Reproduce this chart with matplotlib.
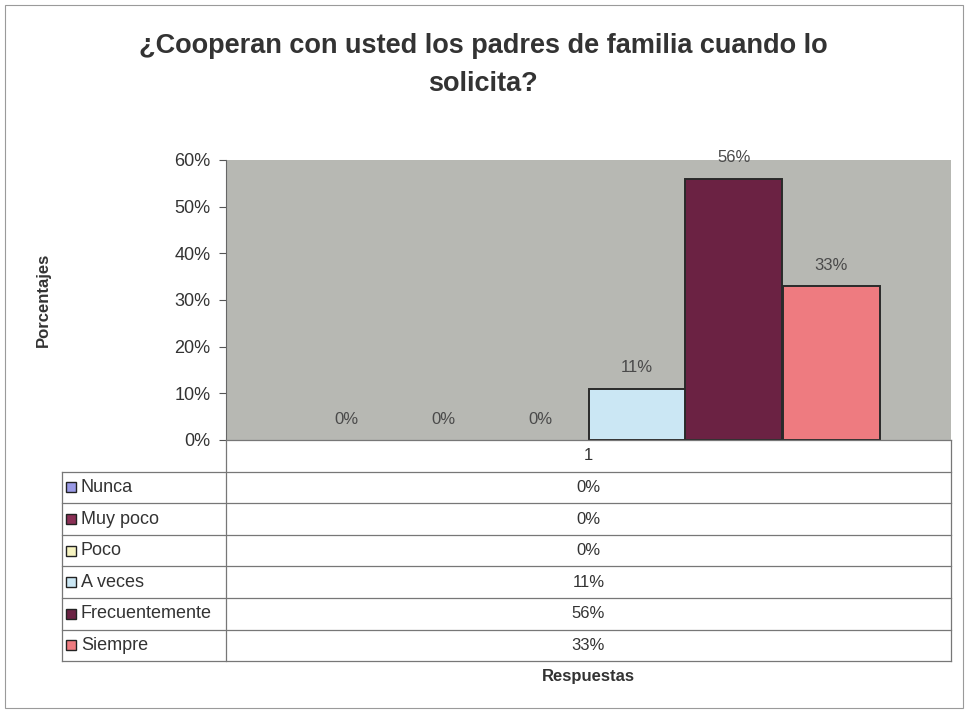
import matplotlib
matplotlib.use("Agg")
import matplotlib.pyplot as plt
from matplotlib.lines import Line2D
from matplotlib.patches import Rectangle

# === DATA ===
categories = ["Nunca", "Muy poco", "Poco", "A veces", "Frecuentemente", "Siempre"]
values = [0, 0, 0, 11, 56, 33]
series_label = "1"
yticks = [0, 10, 20, 30, 40, 50, 60]
colors = ["#9a9ae6", "#8a2f55", "#f6f3c0", "#cbe7f4", "#6b2243", "#ee7b80"]

TITLE = "¿Cooperan con usted los padres de familia cuando lo\nsolicita?"
W, H = 966, 713
FONT = "Liberation Sans"


def fx(x):
    return x / W


def fy(y):
    return 1 - y / H


fig = plt.figure(figsize=(W / 100, H / 100), dpi=100)
fig.patch.set_facecolor("white")

# outer chart border
fig.add_artist(Rectangle((fx(5), fy(708)), fx(958), (703) / H, transform=fig.transFigure,
                         fill=False, edgecolor="#9a9a9a", linewidth=0.8))

left, right, top, bottom = 226, 951, 160, 440
ax = fig.add_axes([fx(left), fy(bottom), fx(right - left), (bottom - top) / H])
ax.set_facecolor("#b7b8b3")

n = len(categories)
bw = 97 / (right - left)
x0 = 0.5 - n * bw / 2
for i, (cat, v, c) in enumerate(zip(categories, values, colors)):
    xc = x0 + (i + 0.5) * bw
    if v > 0:
        ax.bar(xc, v, width=bw, color=c, edgecolor="#2a2a2a", linewidth=1.4, zorder=3)
    ax.annotate(f"{v}%", (xc, v), xytext=(0, 15), textcoords="offset points",
                ha="center", va="center", fontsize=12, color="#4a4a4a", family=FONT)

ax.set_xlim(0, 1)
ax.set_ylim(0, 60)
ax.set_yticks(yticks)
ax.set_yticklabels([f"{t}%" for t in yticks], fontsize=13, color="#333333", family=FONT)
ax.set_xticks([])
ax.tick_params(axis="y", length=5, color="#555555", pad=6)
for s in ["top", "right", "bottom"]:
    ax.spines[s].set_visible(False)
ax.spines["left"].set_color("#666666")

fig.text(0.5, fy(65), TITLE, ha="center", va="center", fontsize=19.5, fontweight="bold",
         color="#333333", family=FONT, linespacing=1.64)
fig.text(fx(43), fy(300), "Porcentajes", rotation=90, ha="center", va="center",
         fontsize=12, fontweight="bold", color="#333333", family=FONT)
fig.text(fx(588), fy(677), "Respuestas", ha="center", va="center",
         fontsize=12, fontweight="bold", color="#333333", family=FONT)

# data table below the plot
row_h = 31.6
t_left = 62
tab_top = bottom + row_h
lc = "#777777"


def hline(y, xa, xb):
    fig.add_artist(Line2D([fx(xa), fx(xb)], [fy(y), fy(y)], transform=fig.transFigure,
                          color=lc, linewidth=0.9))


def vline(x, ya, yb):
    fig.add_artist(Line2D([fx(x), fx(x)], [fy(ya), fy(yb)], transform=fig.transFigure,
                          color=lc, linewidth=0.9))


tab_bottom = tab_top + n * row_h
vline(left, bottom, tab_bottom)
vline(right, bottom, tab_bottom)
vline(t_left, tab_top, tab_bottom)
hline(bottom, left, right)
for k in range(n + 1):
    hline(tab_top + k * row_h, t_left, right)

fig.text(fx((left + right) / 2), fy(bottom + row_h / 2), series_label, ha="center", va="center",
         fontsize=12, color="#333333", family=FONT)
for i, (cat, v, c) in enumerate(zip(categories, values, colors)):
    yc = tab_top + (i + 0.5) * row_h
    fig.add_artist(Rectangle((fx(66), fy(yc + 5)), fx(10), 10 / H, transform=fig.transFigure,
                             facecolor=c, edgecolor="#222222", linewidth=1.0))
    fig.text(fx(81), fy(yc), cat, ha="left", va="center", fontsize=13,
             color="#333333", family=FONT)
    fig.text(fx((left + right) / 2), fy(yc), f"{v}%", ha="center", va="center",
             fontsize=12, color="#333333", family=FONT)

fig.savefig("out.png", dpi=100)
